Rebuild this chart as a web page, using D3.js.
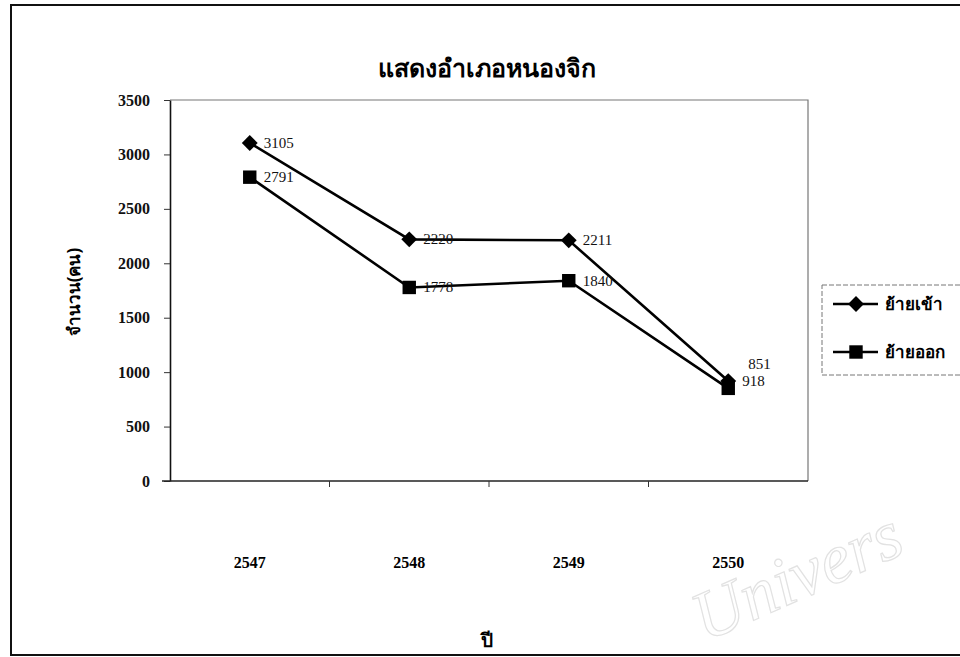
<!DOCTYPE html>
<html>
<head>
<meta charset="utf-8">
<script src="https://cdn.jsdelivr.net/npm/d3@7"></script>
<style>
  body { margin: 0; background: #fff; }
  svg { display: block; }
</style>
</head>
<body>
<svg id="chart" width="960" height="657"></svg>
<script>
// years (พ.ศ.) and the two series
const years = ["2547", "2548", "2549", "2550"];
const moveIn = [3105, 2220, 2211, 918];   // ย้ายเข้า
const moveOut = [2791, 1778, 1840, 851];  // ย้ายออก
const yTicks = [0, 500, 1000, 1500, 2000, 2500, 3000, 3500];
const seriesNames = ["ย้ายเข้า", "ย้ายออก"];

const thaiFont = "'Noto Sans', 'DejaVu Sans', sans-serif";
const numFont = "'Liberation Serif', 'Times New Roman', serif";

const margin = { top: 100, left: 170, bottom: 176, right: 152 };
const width = 960, height = 657;

const svg = d3.select("#chart");

// outer frame
svg.append("rect")
  .attr("x", 11).attr("y", 5)
  .attr("width", 960).attr("height", 650)
  .attr("fill", "none").attr("stroke", "#111").attr("stroke-width", 2);

// faint watermark, bottom right
svg.append("text")
  .attr("transform", "translate(705,642) rotate(-24)")
  .attr("font-family", numFont)
  .attr("font-style", "italic")
  .attr("font-size", 70)
  .attr("fill", "none")
  .attr("stroke", "#e2e2e2")
  .attr("stroke-width", 1.2)
  .text("Univers");

const x = d3.scaleBand()
  .domain(years)
  .range([margin.left, width - margin.right])
  .padding(0);

const y = d3.scaleLinear()
  .domain([0, 3500])
  .range([height - margin.bottom, margin.top]);

// plot area border (top and right)
svg.append("path")
  .attr("d", `M${margin.left},${margin.top}H${width - margin.right}V${height - margin.bottom}`)
  .attr("fill", "none").attr("stroke", "#777").attr("stroke-width", 1.2);

// y axis
const yAxis = d3.axisLeft(y)
  .tickValues(yTicks)
  .tickFormat(d3.format("d"))
  .tickSize(6).tickSizeOuter(0).tickPadding(14);
const gy = svg.append("g")
  .attr("transform", `translate(${margin.left},0)`)
  .call(yAxis);
gy.select(".domain").attr("stroke", "#111").attr("stroke-width", 1.6);
gy.selectAll(".tick line").attr("stroke", "#333");
gy.selectAll(".tick text")
  .attr("font-family", numFont).attr("font-size", 16).attr("font-weight", "bold").attr("fill", "#111");

// x axis: ticks between categories, labels far below
const gx = svg.append("g")
  .attr("transform", `translate(0,${y(0)})`);
gx.append("line")
  .attr("x1", margin.left - 8).attr("x2", width - margin.right)
  .attr("stroke", "#222").attr("stroke-width", 1.6);
gx.selectAll(".xt")
  .data(years.slice(1))
  .join("line")
  .attr("class", "xt")
  .attr("x1", d => x(d)).attr("x2", d => x(d))
  .attr("y1", 0).attr("y2", 6)
  .attr("stroke", "#333");
gx.selectAll(".xl")
  .data(years)
  .join("text")
  .attr("class", "xl")
  .attr("x", d => x(d) + x.bandwidth() / 2)
  .attr("y", 87)
  .attr("text-anchor", "middle")
  .attr("font-family", numFont).attr("font-size", 16).attr("font-weight", "bold")
  .text(d => d);

// titles
svg.append("text")
  .attr("x", 487).attr("y", 77)
  .attr("text-anchor", "middle")
  .attr("font-family", thaiFont).attr("font-size", 25).attr("font-weight", "bold")
  .text("แสดงอำเภอหนองจิก");

svg.append("text")
  .attr("x", 487).attr("y", 647)
  .attr("text-anchor", "middle")
  .attr("font-family", thaiFont).attr("font-size", 19).attr("font-weight", "bold")
  .text("ปี");

svg.append("text")
  .attr("transform", "translate(80,292) rotate(-90)")
  .attr("text-anchor", "middle")
  .attr("font-family", thaiFont).attr("font-size", 17).attr("font-weight", "bold")
  .text("จำนวน(คน)");

// lines and markers
const cx = d => x(d) + x.bandwidth() / 2;
const line = d3.line().x(d => cx(d[0])).y(d => y(d[1]));
const inPts = years.map((yr, i) => [yr, moveIn[i]]);
const outPts = years.map((yr, i) => [yr, moveOut[i]]);

[outPts, inPts].forEach(pts => {
  svg.append("path")
    .datum(pts)
    .attr("d", line)
    .attr("fill", "none").attr("stroke", "#000").attr("stroke-width", 2.6);
});

const diamond = d3.symbol().type(d3.symbolDiamond2).size(160);
const square = d3.symbol().type(d3.symbolSquare).size(180);

svg.selectAll(".mk-in")
  .data(inPts)
  .join("path")
  .attr("class", "mk-in")
  .attr("transform", d => `translate(${cx(d[0])},${y(d[1])})`)
  .attr("d", diamond).attr("fill", "#000");

svg.selectAll(".mk-out")
  .data(outPts)
  .join("path")
  .attr("class", "mk-out")
  .attr("transform", d => `translate(${cx(d[0])},${y(d[1])})`)
  .attr("d", square).attr("fill", "#000");

// data labels (the last square label sits above the diamond's label)
const labelStyle = s => s
  .attr("font-family", numFont).attr("font-size", 15).attr("fill", "#111");

svg.selectAll(".lb-in")
  .data(inPts)
  .join("text")
  .attr("class", "lb-in")
  .attr("x", d => cx(d[0]) + 14)
  .attr("y", d => y(d[1]) + 5)
  .text(d => d[1])
  .call(labelStyle);

svg.selectAll(".lb-out")
  .data(outPts)
  .join("text")
  .attr("class", "lb-out")
  .attr("x", (d, i) => cx(d[0]) + (i === 3 ? 20 : 14))
  .attr("y", (d, i) => i === 3 ? y(d[1]) - 19 : y(d[1]) + 5)
  .text(d => d[1])
  .call(labelStyle);

// legend
const lg = svg.append("g").attr("transform", "translate(822,285)");
lg.append("rect")
  .attr("width", 150).attr("height", 90)
  .attr("fill", "#fff").attr("stroke", "#777").attr("stroke-width", 1)
  .attr("stroke-dasharray", "5,2");
const entries = lg.selectAll(".entry")
  .data(seriesNames)
  .join("g")
  .attr("class", "entry")
  .attr("transform", (d, i) => `translate(0,${19 + i * 48})`);
entries.append("line")
  .attr("x1", 11).attr("x2", 56)
  .attr("stroke", "#000").attr("stroke-width", 2.6);
entries.append("path")
  .attr("transform", "translate(34,0)")
  .attr("d", (d, i) => i === 0 ? diamond() : square())
  .attr("fill", "#000");
entries.append("text")
  .attr("x", 63).attr("y", 6)
  .attr("font-family", thaiFont).attr("font-size", 17).attr("font-weight", "bold")
  .text(d => d);
</script>
</body>
</html>
